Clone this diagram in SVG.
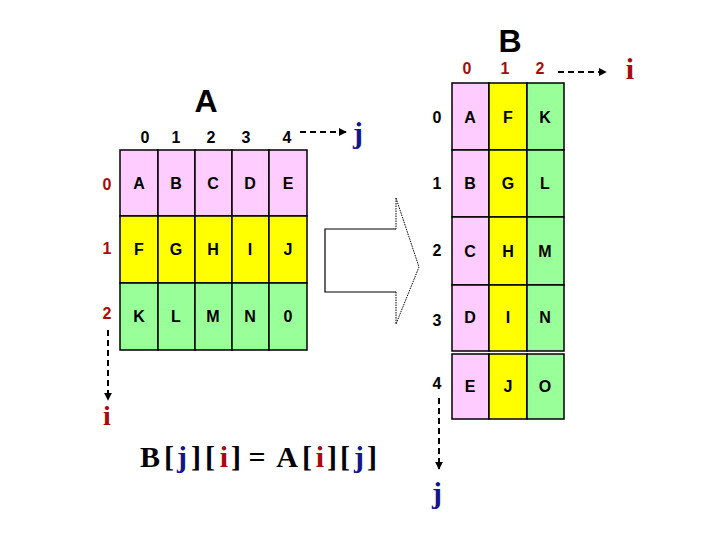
<svg xmlns="http://www.w3.org/2000/svg" width="720" height="540" viewBox="0 0 720 540">
<style>
.cell{stroke:#000;stroke-width:1.5}
.p{fill:#ffccff}.y{fill:#ffff00}.g{fill:#99ff99}
.t{font-family:"Liberation Sans",Arial,sans-serif;font-weight:bold;font-size:16px;text-anchor:middle;fill:#000}
.idx{font-family:"Liberation Sans",Arial,sans-serif;font-weight:bold;font-size:16px;text-anchor:middle;fill:#000}
.red{fill:#a50d0d}
.title{font-family:"Liberation Sans",Arial,sans-serif;font-weight:bold;font-size:32px;text-anchor:middle;fill:#000}
.ser{font-family:"Liberation Serif","Times New Roman",serif;font-weight:bold;text-anchor:middle}
.blue{fill:#14148c}
.dash{stroke:#000;stroke-width:2;stroke-dasharray:6 4;fill:none}
</style>
<defs>
<marker id="ah" viewBox="0 0 10 10" refX="9" refY="5" markerWidth="4" markerHeight="4" orient="auto" markerUnits="strokeWidth">
<path d="M0,0 L10,5 L0,10 z" fill="#000"/>
</marker>
</defs>

<g id="matrixA">
<text class="title" x="206" y="112">A</text>
<text class="idx" x="145" y="143">0</text>
<text class="idx" x="176" y="143">1</text>
<text class="idx" x="211" y="143">2</text>
<text class="idx" x="246" y="143">3</text>
<text class="idx" x="287" y="143">4</text>
<text class="idx red" x="107" y="190" font-size="18">0</text>
<text class="idx red" x="107" y="254" font-size="18">1</text>
<text class="idx red" x="107" y="319" font-size="18">2</text>
<g id="A-row0">
<rect class="cell p" x="120" y="150" width="38" height="66"/>
<rect class="cell p" x="158" y="150" width="37" height="66"/>
<rect class="cell p" x="195" y="150" width="37" height="66"/>
<rect class="cell p" x="232" y="150" width="37" height="66"/>
<rect class="cell p" x="269" y="150" width="38" height="66"/>
<text class="t" x="139" y="189">A</text>
<text class="t" x="176" y="189">B</text>
<text class="t" x="213" y="189">C</text>
<text class="t" x="250" y="189">D</text>
<text class="t" x="288" y="189">E</text>
</g>
<g id="A-row1">
<rect class="cell y" x="120" y="216" width="38" height="67"/>
<rect class="cell y" x="158" y="216" width="37" height="67"/>
<rect class="cell y" x="195" y="216" width="37" height="67"/>
<rect class="cell y" x="232" y="216" width="37" height="67"/>
<rect class="cell y" x="269" y="216" width="38" height="67"/>
<text class="t" x="139" y="255">F</text>
<text class="t" x="176" y="255">G</text>
<text class="t" x="213" y="255">H</text>
<text class="t" x="250" y="255">I</text>
<text class="t" x="288" y="255">J</text>
</g>
<g id="A-row2">
<rect class="cell g" x="120" y="283" width="38" height="67"/>
<rect class="cell g" x="158" y="283" width="37" height="67"/>
<rect class="cell g" x="195" y="283" width="37" height="67"/>
<rect class="cell g" x="232" y="283" width="37" height="67"/>
<rect class="cell g" x="269" y="283" width="38" height="67"/>
<text class="t" x="139" y="322">K</text>
<text class="t" x="176" y="322">L</text>
<text class="t" x="213" y="322">M</text>
<text class="t" x="250" y="322">N</text>
<text class="t" x="288" y="322">0</text>
</g>
<text class="ser blue" x="358" y="143" font-size="30">j</text>
<text class="ser red" x="107" y="425" font-size="28">i</text>
</g>

<g id="matrixB">
<text class="title" x="510" y="52" font-size="30">B</text>
<text class="idx red" x="467" y="74" font-size="17">0</text>
<text class="idx red" x="505" y="74" font-size="17">1</text>
<text class="idx red" x="540" y="74" font-size="17">2</text>
<text class="idx" x="437" y="123">0</text>
<text class="idx" x="437" y="189">1</text>
<text class="idx" x="437" y="256">2</text>
<text class="idx" x="437" y="326">3</text>
<text class="idx" x="437" y="389">4</text>
<g id="B-col0">
<rect class="cell p" x="452" y="83" width="37" height="67"/>
<rect class="cell p" x="452" y="150" width="37" height="67"/>
<rect class="cell p" x="452" y="217" width="37" height="68"/>
<rect class="cell p" x="452" y="285" width="37" height="66"/>
<rect class="cell p" x="452" y="354" width="37" height="65"/>
</g>
<g id="B-col1">
<rect class="cell y" x="489" y="83" width="38" height="67"/>
<rect class="cell y" x="489" y="150" width="38" height="67"/>
<rect class="cell y" x="489" y="217" width="38" height="68"/>
<rect class="cell y" x="489" y="285" width="38" height="66"/>
<rect class="cell y" x="489" y="354" width="38" height="65"/>
</g>
<g id="B-col2">
<rect class="cell g" x="527" y="83" width="37" height="67"/>
<rect class="cell g" x="527" y="150" width="37" height="67"/>
<rect class="cell g" x="527" y="217" width="37" height="68"/>
<rect class="cell g" x="527" y="285" width="37" height="66"/>
<rect class="cell g" x="527" y="354" width="37" height="65"/>
</g>
<text class="t" x="470" y="123">A</text>
<text class="t" x="508" y="123">F</text>
<text class="t" x="545" y="123">K</text>
<text class="t" x="470" y="189">B</text>
<text class="t" x="508" y="189">G</text>
<text class="t" x="545" y="189">L</text>
<text class="t" x="470" y="257">C</text>
<text class="t" x="508" y="257">H</text>
<text class="t" x="545" y="257">M</text>
<text class="t" x="470" y="323">D</text>
<text class="t" x="508" y="323">I</text>
<text class="t" x="545" y="323">N</text>
<text class="t" x="470" y="392">E</text>
<text class="t" x="508" y="392">J</text>
<text class="t" x="545" y="392">O</text>
<text class="ser red" x="630" y="79" font-size="30">i</text>
<text class="ser blue" x="437" y="503" font-size="30">j</text>
</g>

<g id="bigArrow">
<path d="M396,198 L419,267 L396,324" fill="none" stroke="#000" stroke-width="1" stroke-dasharray="1.5 1"/>
<path d="M396,229 L325,229 L325,292 L396,292" fill="none" stroke="#000" stroke-width="1.2"/>
<path d="M396,198 L396,229 M396,292 L396,324" fill="none" stroke="#000" stroke-width="1" stroke-dasharray="1.5 1"/>
</g>

<g id="connectors">
<line class="dash" x1="300" y1="132" x2="346" y2="132" marker-end="url(#ah)"/>
<line class="dash" x1="108" y1="330" x2="108" y2="400" marker-end="url(#ah)"/>
<line class="dash" x1="558" y1="72" x2="606" y2="72" marker-end="url(#ah)"/>
<line class="dash" x1="439" y1="398" x2="439" y2="469" marker-end="url(#ah)"/>
</g>

<g id="formula">
<text class="ser" font-size="30" y="467"><tspan x="150" fill="#000">B</tspan><tspan x="169" fill="#000">[</tspan><tspan x="182" class="blue">j</tspan><tspan x="196" fill="#000">]</tspan><tspan x="210" fill="#000">[</tspan><tspan x="224" class="red">i</tspan><tspan x="236" fill="#000">]</tspan><tspan x="257" fill="#000">=</tspan><tspan x="287" fill="#000">A</tspan><tspan x="307" fill="#000">[</tspan><tspan x="320" class="red">i</tspan><tspan x="332" fill="#000">]</tspan><tspan x="345" fill="#000">[</tspan><tspan x="359" class="blue">j</tspan><tspan x="372" fill="#000">]</tspan></text>
</g>
</svg>
